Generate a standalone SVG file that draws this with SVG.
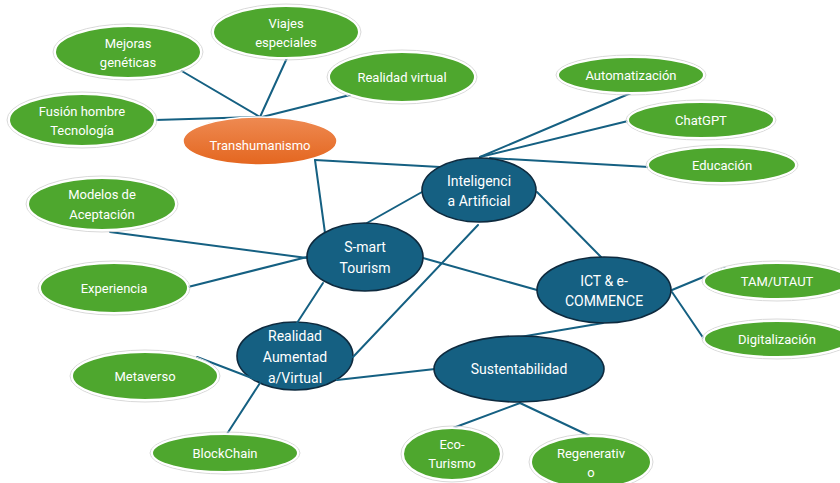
<svg xmlns="http://www.w3.org/2000/svg" width="840" height="483" viewBox="0 0 840 483">
  <defs>
    <linearGradient id="orangeFill" x1="0" y1="0" x2="0" y2="1">
      <stop offset="0" stop-color="#EE8A52"/>
      <stop offset="1" stop-color="#E4661F"/>
    </linearGradient>
    <style>
      .leaf { fill: #4EA72E; stroke: #ffffff; stroke-width: 2; }
      .halo { fill: none; stroke: #d9d9d9; stroke-width: 1; }
      .hub { fill: #156082; stroke: #0E2A3E; stroke-width: 1.6; }
      .core { fill: url(#orangeFill); stroke: #ffffff; stroke-width: 1.5; }
      .link { stroke: #156082; stroke-width: 2; fill: none; stroke-linecap: round; }
      text { font-family: Roboto, "Liberation Sans", sans-serif; fill: #ffffff; text-anchor: middle; }
      .t { font-size: 13px; }
      .tb { font-size: 14px; }
    </style>
  </defs>
  <rect width="840" height="483" fill="#ffffff"/>

  <!-- Realidad Aumentada/Virtual sits under the connectors -->
  <g id="realidad-aumentada">
    <ellipse class="hub" cx="295" cy="356" rx="58" ry="34"/>
    <text class="tb" x="295" y="341">Realidad</text>
    <text class="tb" x="295" y="362">Aumentad</text>
    <text class="tb" x="295" y="383">a/Virtual</text>
  </g>

  <g id="connectors">
    <!-- Transhumanismo branch -->
    <line class="link" x1="180" y1="70" x2="260" y2="117"/>
    <line class="link" x1="287" y1="58" x2="260" y2="117"/>
    <line class="link" x1="350" y1="95" x2="262" y2="117"/>
    <line class="link" x1="155" y1="120" x2="260" y2="117"/>
    <line class="link" x1="315" y1="160" x2="440" y2="167"/>
    <line class="link" x1="315" y1="160" x2="325" y2="233"/>
    <!-- Inteligencia Artificial branch -->
    <line class="link" x1="480" y1="157" x2="631" y2="93"/>
    <line class="link" x1="480" y1="157" x2="628" y2="121"/>
    <line class="link" x1="490" y1="158" x2="649" y2="167"/>
    <line class="link" x1="537" y1="192" x2="601" y2="257"/>
    <line class="link" x1="422" y1="192" x2="367" y2="223"/>
    <line class="link" x1="478" y1="225" x2="353" y2="357"/>
    <!-- S-mart Tourism branch -->
    <line class="link" x1="110" y1="232" x2="307" y2="258"/>
    <line class="link" x1="188" y1="287" x2="307" y2="257"/>
    <line class="link" x1="423" y1="258" x2="537" y2="290"/>
    <line class="link" x1="323" y1="283" x2="297" y2="323"/>
    <!-- Realidad Aumentada branch -->
    <line class="link" x1="197" y1="357" x2="257" y2="380"/>
    <line class="link" x1="225" y1="437" x2="260" y2="383"/>
    <line class="link" x1="337" y1="380" x2="435" y2="369"/>
    <!-- ICT & e-COMMENCE branch -->
    <line class="link" x1="603" y1="323" x2="520" y2="337"/>
    <line class="link" x1="672" y1="290" x2="725" y2="268"/>
    <line class="link" x1="672" y1="292" x2="704" y2="339"/>
    <!-- Sustentabilidad branch -->
    <line class="link" x1="520" y1="403" x2="453" y2="428"/>
    <line class="link" x1="520" y1="403" x2="592" y2="437"/>
  </g>

  <g id="transhumanismo">
    <ellipse class="core" cx="260" cy="141" rx="77" ry="24"/>
    <text class="t" x="260" y="150">Transhumanismo</text>
  </g>

  <g id="mejoras-geneticas">
    <ellipse class="halo" cx="128" cy="52" rx="75" ry="28"/>
    <ellipse class="leaf" cx="128" cy="52" rx="73" ry="26"/>
    <text class="t" x="128" y="48">Mejoras</text>
    <text class="t" x="128" y="67">genéticas</text>
  </g>

  <g id="viajes-especiales">
    <ellipse class="halo" cx="286" cy="32" rx="75" ry="28"/>
    <ellipse class="leaf" cx="286" cy="32" rx="73" ry="26"/>
    <text class="t" x="286" y="28">Viajes</text>
    <text class="t" x="286" y="47">especiales</text>
  </g>

  <g id="realidad-virtual">
    <ellipse class="halo" cx="402" cy="77" rx="75" ry="27"/>
    <ellipse class="leaf" cx="402" cy="77" rx="73" ry="25"/>
    <text class="t" x="402" y="82">Realidad virtual</text>
  </g>

  <g id="fusion-hombre-tecnologia">
    <ellipse class="halo" cx="82" cy="120" rx="75" ry="28"/>
    <ellipse class="leaf" cx="82" cy="120" rx="73" ry="26"/>
    <text class="t" x="82" y="116">Fusión hombre</text>
    <text class="t" x="82" y="135">Tecnología</text>
  </g>

  <g id="inteligencia-artificial">
    <ellipse class="hub" cx="479" cy="190" rx="57" ry="32"/>
    <text class="tb" x="479" y="186">Inteligenci</text>
    <text class="tb" x="479" y="206">a Artificial</text>
  </g>

  <g id="automatizacion">
    <ellipse class="halo" cx="631" cy="75" rx="75" ry="20"/>
    <ellipse class="leaf" cx="631" cy="75" rx="73" ry="18"/>
    <text class="t" x="631" y="80">Automatización</text>
  </g>

  <g id="chatgpt">
    <ellipse class="halo" cx="701" cy="120" rx="75" ry="20"/>
    <ellipse class="leaf" cx="701" cy="120" rx="73" ry="18"/>
    <text class="t" x="701" y="125">ChatGPT</text>
  </g>

  <g id="educacion">
    <ellipse class="halo" cx="722" cy="165" rx="76" ry="20"/>
    <ellipse class="leaf" cx="722" cy="165" rx="74" ry="18"/>
    <text class="t" x="722" y="170">Educación</text>
  </g>

  <g id="modelos-aceptacion">
    <ellipse class="halo" cx="102" cy="204" rx="76" ry="28"/>
    <ellipse class="leaf" cx="102" cy="204" rx="74" ry="26"/>
    <text class="t" x="102" y="199">Modelos de</text>
    <text class="t" x="102" y="219">Aceptación</text>
  </g>

  <g id="experiencia">
    <ellipse class="halo" cx="114" cy="288" rx="76" ry="27"/>
    <ellipse class="leaf" cx="114" cy="288" rx="74" ry="25"/>
    <text class="t" x="114" y="293">Experiencia</text>
  </g>

  <g id="smart-tourism">
    <ellipse class="hub" cx="365" cy="257" rx="58" ry="34"/>
    <text class="tb" x="365" y="252">S-mart</text>
    <text class="tb" x="365" y="273">Tourism</text>
  </g>

  <g id="ict-ecommerce">
    <ellipse class="hub" cx="604" cy="290" rx="67" ry="33"/>
    <text class="tb" x="604" y="286">ICT &amp; e-</text>
    <text class="tb" x="604" y="306">COMMENCE</text>
  </g>

  <g id="tam-utaut">
    <ellipse class="halo" cx="777" cy="281" rx="75" ry="20"/>
    <ellipse class="leaf" cx="777" cy="281" rx="73" ry="18"/>
    <text class="t" x="777" y="286">TAM/UTAUT</text>
  </g>

  <g id="digitalizacion">
    <ellipse class="halo" cx="777" cy="339" rx="75" ry="20"/>
    <ellipse class="leaf" cx="777" cy="339" rx="73" ry="18"/>
    <text class="t" x="777" y="344">Digitalización</text>
  </g>

  <g id="sustentabilidad">
    <ellipse class="hub" cx="519" cy="369" rx="85" ry="33"/>
    <text class="tb" x="519" y="374">Sustentabilidad</text>
  </g>

  <g id="metaverso">
    <ellipse class="halo" cx="145" cy="376" rx="75" ry="26"/>
    <ellipse class="leaf" cx="145" cy="376" rx="73" ry="24"/>
    <text class="t" x="145" y="381">Metaverso</text>
  </g>

  <g id="blockchain">
    <ellipse class="halo" cx="225" cy="453" rx="75" ry="21"/>
    <ellipse class="leaf" cx="225" cy="453" rx="73" ry="19"/>
    <text class="t" x="225" y="458">BlockChain</text>
  </g>

  <g id="eco-turismo">
    <ellipse class="halo" cx="452" cy="454" rx="51" ry="28"/>
    <ellipse class="leaf" cx="452" cy="454" rx="49" ry="26"/>
    <text class="t" x="452" y="449">Eco-</text>
    <text class="t" x="452" y="468">Turismo</text>
  </g>

  <g id="regenerativo">
    <ellipse class="halo" cx="591" cy="462" rx="62" ry="28"/>
    <ellipse class="leaf" cx="591" cy="462" rx="60" ry="26"/>
    <text class="t" x="591" y="458">Regenerativ</text>
    <text class="t" x="591" y="477">o</text>
  </g>
</svg>
